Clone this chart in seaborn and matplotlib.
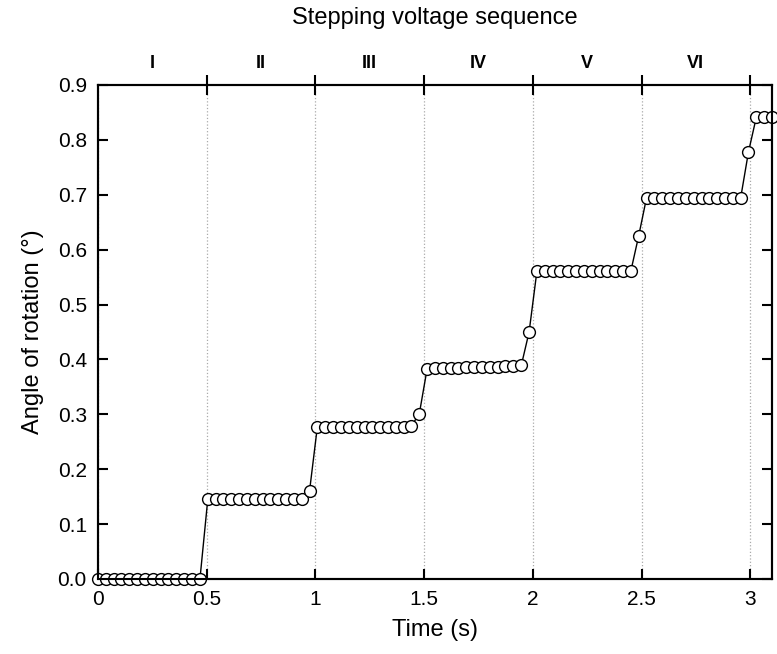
import seaborn as sns
import matplotlib.pyplot as plt
import numpy as np
import pandas as pd
from matplotlib.ticker import FixedLocator, FixedFormatter

sns.set_style('ticks')
plt.rcParams['font.family'] = ['Liberation Sans', 'DejaVu Sans']
plt.rcParams.update({'text.color': 'black', 'axes.labelcolor': 'black',
                     'xtick.color': 'black', 'ytick.color': 'black',
                     'axes.edgecolor': 'black'})

# sample times (s)
time_s = [0.000, 0.036, 0.072, 0.108, 0.144, 0.180, 0.216, 0.252, 0.288, 0.324,
          0.360, 0.397, 0.433, 0.469, 0.505, 0.541, 0.577, 0.613, 0.649, 0.685,
          0.721, 0.757, 0.793, 0.829, 0.865, 0.901, 0.937, 0.973, 1.009, 1.045,
          1.081, 1.117, 1.153, 1.190, 1.226, 1.262, 1.298, 1.334, 1.370, 1.406,
          1.442, 1.478, 1.514, 1.550, 1.586, 1.622, 1.658, 1.694, 1.730, 1.766,
          1.802, 1.838, 1.874, 1.910, 1.947, 1.983, 2.019, 2.055, 2.091, 2.127,
          2.163, 2.199, 2.235, 2.271, 2.307, 2.343, 2.379, 2.415, 2.451, 2.487,
          2.523, 2.559, 2.595, 2.631, 2.667, 2.703, 2.740, 2.776, 2.812, 2.848,
          2.884, 2.920, 2.956, 2.992, 3.028, 3.064, 3.100]

# angle of rotation (deg)
angle_deg = [0.000, 0.000, 0.000, 0.000, 0.000, 0.000, 0.000, 0.000, 0.000, 0.000,
             0.000, 0.000, 0.000, 0.000, 0.145, 0.145, 0.145, 0.145, 0.145, 0.145,
             0.145, 0.145, 0.145, 0.145, 0.145, 0.145, 0.145, 0.160, 0.277, 0.277,
             0.277, 0.277, 0.277, 0.277, 0.277, 0.277, 0.277, 0.277, 0.277, 0.277,
             0.279, 0.301, 0.383, 0.384, 0.384, 0.385, 0.385, 0.386, 0.386, 0.387,
             0.387, 0.387, 0.388, 0.388, 0.389, 0.450, 0.561, 0.561, 0.561, 0.561,
             0.561, 0.561, 0.561, 0.561, 0.561, 0.561, 0.561, 0.561, 0.561, 0.625,
             0.694, 0.694, 0.694, 0.694, 0.694, 0.694, 0.694, 0.694, 0.694, 0.694,
             0.694, 0.694, 0.694, 0.778, 0.841, 0.841, 0.841]

x_ticks = [0, 0.5, 1, 1.5, 2, 2.5, 3]
x_tick_labels = ['0', '0.5', '1', '1.5', '2', '2.5', '3']
y_ticks = [0.0, 0.1, 0.2, 0.3, 0.4, 0.5, 0.6, 0.7, 0.8, 0.9]
y_tick_labels = ['0.0', '0.1', '0.2', '0.3', '0.4', '0.5', '0.6', '0.7', '0.8', '0.9']
stage_pos = [0.25, 0.75, 1.25, 1.75, 2.25, 2.75]
stage_labels = ['I', 'II', 'III', 'IV', 'V', 'VI']

df = pd.DataFrame({'time': time_s, 'angle': angle_deg})

fig = plt.figure(figsize=(7.77, 6.54), dpi=100)
ax = fig.add_axes([0.1261, 0.1147, 0.8674, 0.7554])

sns.lineplot(data=df, x='time', y='angle', ax=ax, color='black', linewidth=1.0,
             marker='o', markersize=8.5, markerfacecolor='white',
             markeredgecolor='black', markeredgewidth=1.0, clip_on=False, zorder=3)

ax.set_xlim(0, 3.1)
ax.set_ylim(0, 0.9)
ax.set_xticks(x_ticks)
ax.set_xticklabels(x_tick_labels)
ax.set_yticks(y_ticks)
ax.set_yticklabels(y_tick_labels)
ax.tick_params(direction='in', length=7, width=1.5, labelsize=15, right=True, top=False)
ax.tick_params(axis='x', pad=8)
ax.tick_params(axis='y', pad=8)
for sp in ax.spines.values():
    sp.set_linewidth(1.5)
ax.grid(axis='x', linestyle=':', color='#aaaaaa', linewidth=0.9)
ax.set_xlabel('Time (s)', fontsize=17, labelpad=7)
ax.set_ylabel('Angle of rotation (\u00b0)', fontsize=17, labelpad=10)

# top axis with the voltage stages
ax2 = ax.twiny()
ax2.set_xlim(ax.get_xlim())
ax2.xaxis.set_major_locator(FixedLocator(x_ticks[1:]))
ax2.xaxis.set_minor_locator(FixedLocator(stage_pos))
ax2.xaxis.set_minor_formatter(FixedFormatter(stage_labels))
ax2.tick_params(axis='x', which='major', direction='inout', length=14, width=1.5,
                labeltop=False)
ax2.tick_params(axis='x', which='minor', length=0, pad=9, labelsize=13)
for lab in ax2.get_xticklabels(minor=True):
    lab.set_fontweight('bold')
for sp in ax2.spines.values():
    sp.set_linewidth(1.5)

fig.text(0.1261 + 0.8674 / 2, 1 - 18 / 654, 'Stepping voltage sequence',
         ha='center', va='center', fontsize=17)

fig.savefig('out.png', dpi=100)
